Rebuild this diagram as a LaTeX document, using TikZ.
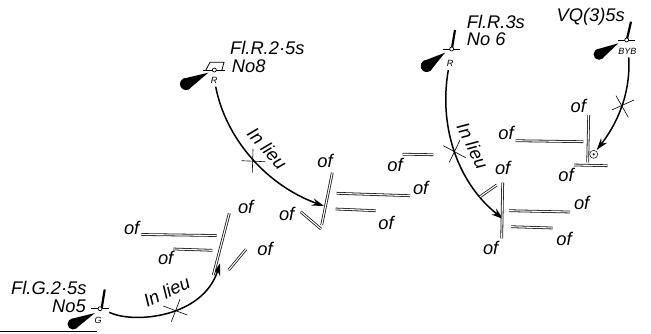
\documentclass[tikz,border=0pt]{standalone}
\usepackage{fontspec}
\setmainfont{Liberation Sans}
\usetikzlibrary{arrows.meta,calc}
\tikzset{
	lbl/.style={font=\fontsize{18.3}{18}\selectfont\itshape,inner sep=0pt},
	col/.style={font=\fontsize{9}{9}\selectfont\itshape,inner sep=0pt},
	berth/.style={double,double distance=1.1pt,line width=.8pt,draw=black!90},
	lead/.style={black,line width=1.5pt,-{Stealth[length=12pt,width=7.5pt]}},
	cross/.style={black,line width=.6pt},
	mast/.style={black,line width=2.2pt},
	base/.style={black,line width=.8pt},
	light/.style={circle,draw=black,fill=white,line width=.7pt,inner sep=0pt,minimum size=4pt}
}
\begin{document}
\begin{tikzpicture}[x=1pt,y=-1pt]
	\useasboundingbox (0,0) rectangle (651,333);
	% sector flares
	\fill (95,313) -- ($(73,324)!5.5pt!90:(95,313)$) -- ($(73,324)!5.5pt!-90:(95,313)$) -- cycle;
	\fill (73,324) circle (5.5pt);
	\fill (208.3,72.7) -- ($(186,84)!6pt!90:(208.3,72.7)$) -- ($(186,84)!6pt!-90:(208.3,72.7)$) -- cycle;
	\fill (186,84) circle (6pt);
	\fill (445,52.7) -- ($(426.7,66)!6pt!90:(445,52.7)$) -- ($(426.7,66)!6pt!-90:(445,52.7)$) -- cycle;
	\fill (426.7,66) circle (6pt);
	\fill (618.3,43.3) -- ($(599,54.3)!5.5pt!90:(618.3,43.3)$) -- ($(599,54.3)!5.5pt!-90:(618.3,43.3)$) -- cycle;
	\fill (599,54.3) circle (5.5pt);
	%
	\draw[base] (91,308.7) -- (108.7,308.7);
	\draw[mast] (101.7,308) -- (104.7,289.5);
	\draw[base] (443.3,49) -- (460,49);
	\draw[mast] (452,48) -- (455,30);
	\draw[base] (618.3,40) -- (635,40);
	\draw[mast] (627,39) -- (631,21.7);
	\draw[base] (203.3,70.7) -- (225,70.7);
	\draw[base] (205.5,70.7) -- (210,62.3) -- (224,62.3) -- (221.7,70.7);
	%
	\node[light] (lightG) at (100,308.7) {};
	\node[light] (lightR) at (214.3,70) {};
	\node[light] (lightS) at (451.7,49) {};
	\node[light] (lightB) at (626.7,40) {};
	\node[col] (colG) at (98,320.7) {G};
	\node[col] (colR) at (214,80.3) {R};
	\node[col] (colS) at (450,63.3) {R};
	\node[col] (colB) at (627.3,51.7) {BYB};
	%
	\node[lbl,anchor=west] (nameG) at (11,288) {Fl.G.2·5s};
	\node[lbl,anchor=east] (noG) at (86,306) {No5};
	\node[lbl,anchor=west] (nameR) at (230,48.3) {Fl.R.2·5s};
	\node[lbl,anchor=west] (noR) at (231.7,66.7) {No8};
	\node[lbl,anchor=west] (nameS) at (466.7,21.7) {Fl.R.3s};
	\node[lbl,anchor=west] (noS) at (466.7,39) {No 6};
	\node[lbl,anchor=east] (nameB) at (625,16.7) {VQ(3)5s};
	%
	\coordinate (startG) at (109.3,312.3);
	\coordinate (endG) at (220,263.3);
	\coordinate (startR) at (215.7,86.7);
	\coordinate (endR) at (324,206);
	\coordinate (startS) at (448.3,70);
	\coordinate (endS) at (503.3,219);
	\coordinate (startB) at (628.7,57.3);
	\coordinate (endB) at (596.7,150);
	\draw[lead] (startG) .. controls (133,324) and (203,318) .. (endG);
	\draw[lead] (startR) .. controls (226,140) and (268,186) .. (endR);
	\draw[lead] (startS) .. controls (438,130) and (460,185) .. (endS);
	\draw[lead] (startB) .. controls (631,95) and (616,125) .. (endB);
	%
	\draw[cross] (163.3,306) -- (187.3,315);
	\draw[cross] (180,299.3) -- (171.3,321.7);
	\draw[cross] (241.7,160.7) -- (265,161.7);
	\draw[cross] (253,149) -- (252.3,172.7);
	\draw[cross] (443.3,145.7) -- (465.7,157.7);
	\draw[cross] (460,140) -- (449.3,162.3);
	\draw[cross] (611.7,110) -- (634,100);
	\draw[cross] (616,95.7) -- (628.3,117.3);
	%
	\node[lbl,rotate=25] (lieuG) at (166.7,291.7) {In lieu};
	\node[lbl,rotate=-48] (lieuR) at (267.3,148.3) {In lieu};
	\node[lbl,rotate=-64] (lieuS) at (472.7,145.7) {In lieu};
	%
	\draw[berth] (141.3,234.5) -- (216.7,235.5);
	\draw[berth] (173.3,249) -- (212.3,250.3);
	\draw[berth] (229.3,213.3) -- (213.3,275);
	\draw[berth] (246,249.3) -- (228.7,270);
	\node[lbl] (ofA) at (131.7,227.7) {of};
	\node[lbl] (ofB) at (165.7,258.3) {of};
	\node[lbl] (ofC) at (245.7,206.7) {of};
	\node[lbl] (ofD) at (265,249) {of};
	%
	\draw[berth] (332.3,172.7) -- (321.7,225);
	\draw[berth] (336.7,193.3) -- (410,195.7);
	\draw[berth] (335.7,209) -- (375.7,210.7);
	\draw[berth] (300.7,211.7) -- (321,229);
	\draw[berth] (402.7,154.2) -- (433.3,154.7);
	\node[lbl] (ofE) at (325,161) {of};
	\node[lbl] (ofF) at (420.7,187.7) {of};
	\node[lbl] (ofG) at (386,222.7) {of};
	\node[lbl] (ofH) at (286.7,213.7) {of};
	\node[lbl] (ofI) at (395,165) {of};
	%
	\draw[berth] (502.7,182.7) -- (501.7,238.3);
	\draw[berth] (496.7,185) -- (480,196.7);
	\draw[berth] (509,210.7) -- (570,212);
	\draw[berth] (511,226.7) -- (552.7,228);
	\node[lbl] (ofJ) at (502.7,167.7) {of};
	\node[lbl] (ofK) at (581.7,203.3) {of};
	\node[lbl] (ofL) at (564,239.3) {of};
	\node[lbl] (ofM) at (490.7,248.3) {of};
	%
	\draw[berth] (588.7,115) -- (587.7,162.3);
	\draw[berth] (515.7,140.7) -- (583.3,141.7);
	\draw[berth] (574,165) -- (607.7,165.7);
	\node[lbl] (ofN) at (578.3,106) {of};
	\node[lbl] (ofO) at (506,133.3) {of};
	\node[lbl] (ofP) at (566,175) {of};
	\node[circle,draw=black,line width=.5pt,inner sep=0pt,minimum size=8pt] (mark) at (593.7,154.3) {};
	\fill (mark.center) circle (1.2pt);
	%
	\draw[black,line width=1pt] (0,331.7) -- (97.3,331.7);
\end{tikzpicture}
\end{document}
